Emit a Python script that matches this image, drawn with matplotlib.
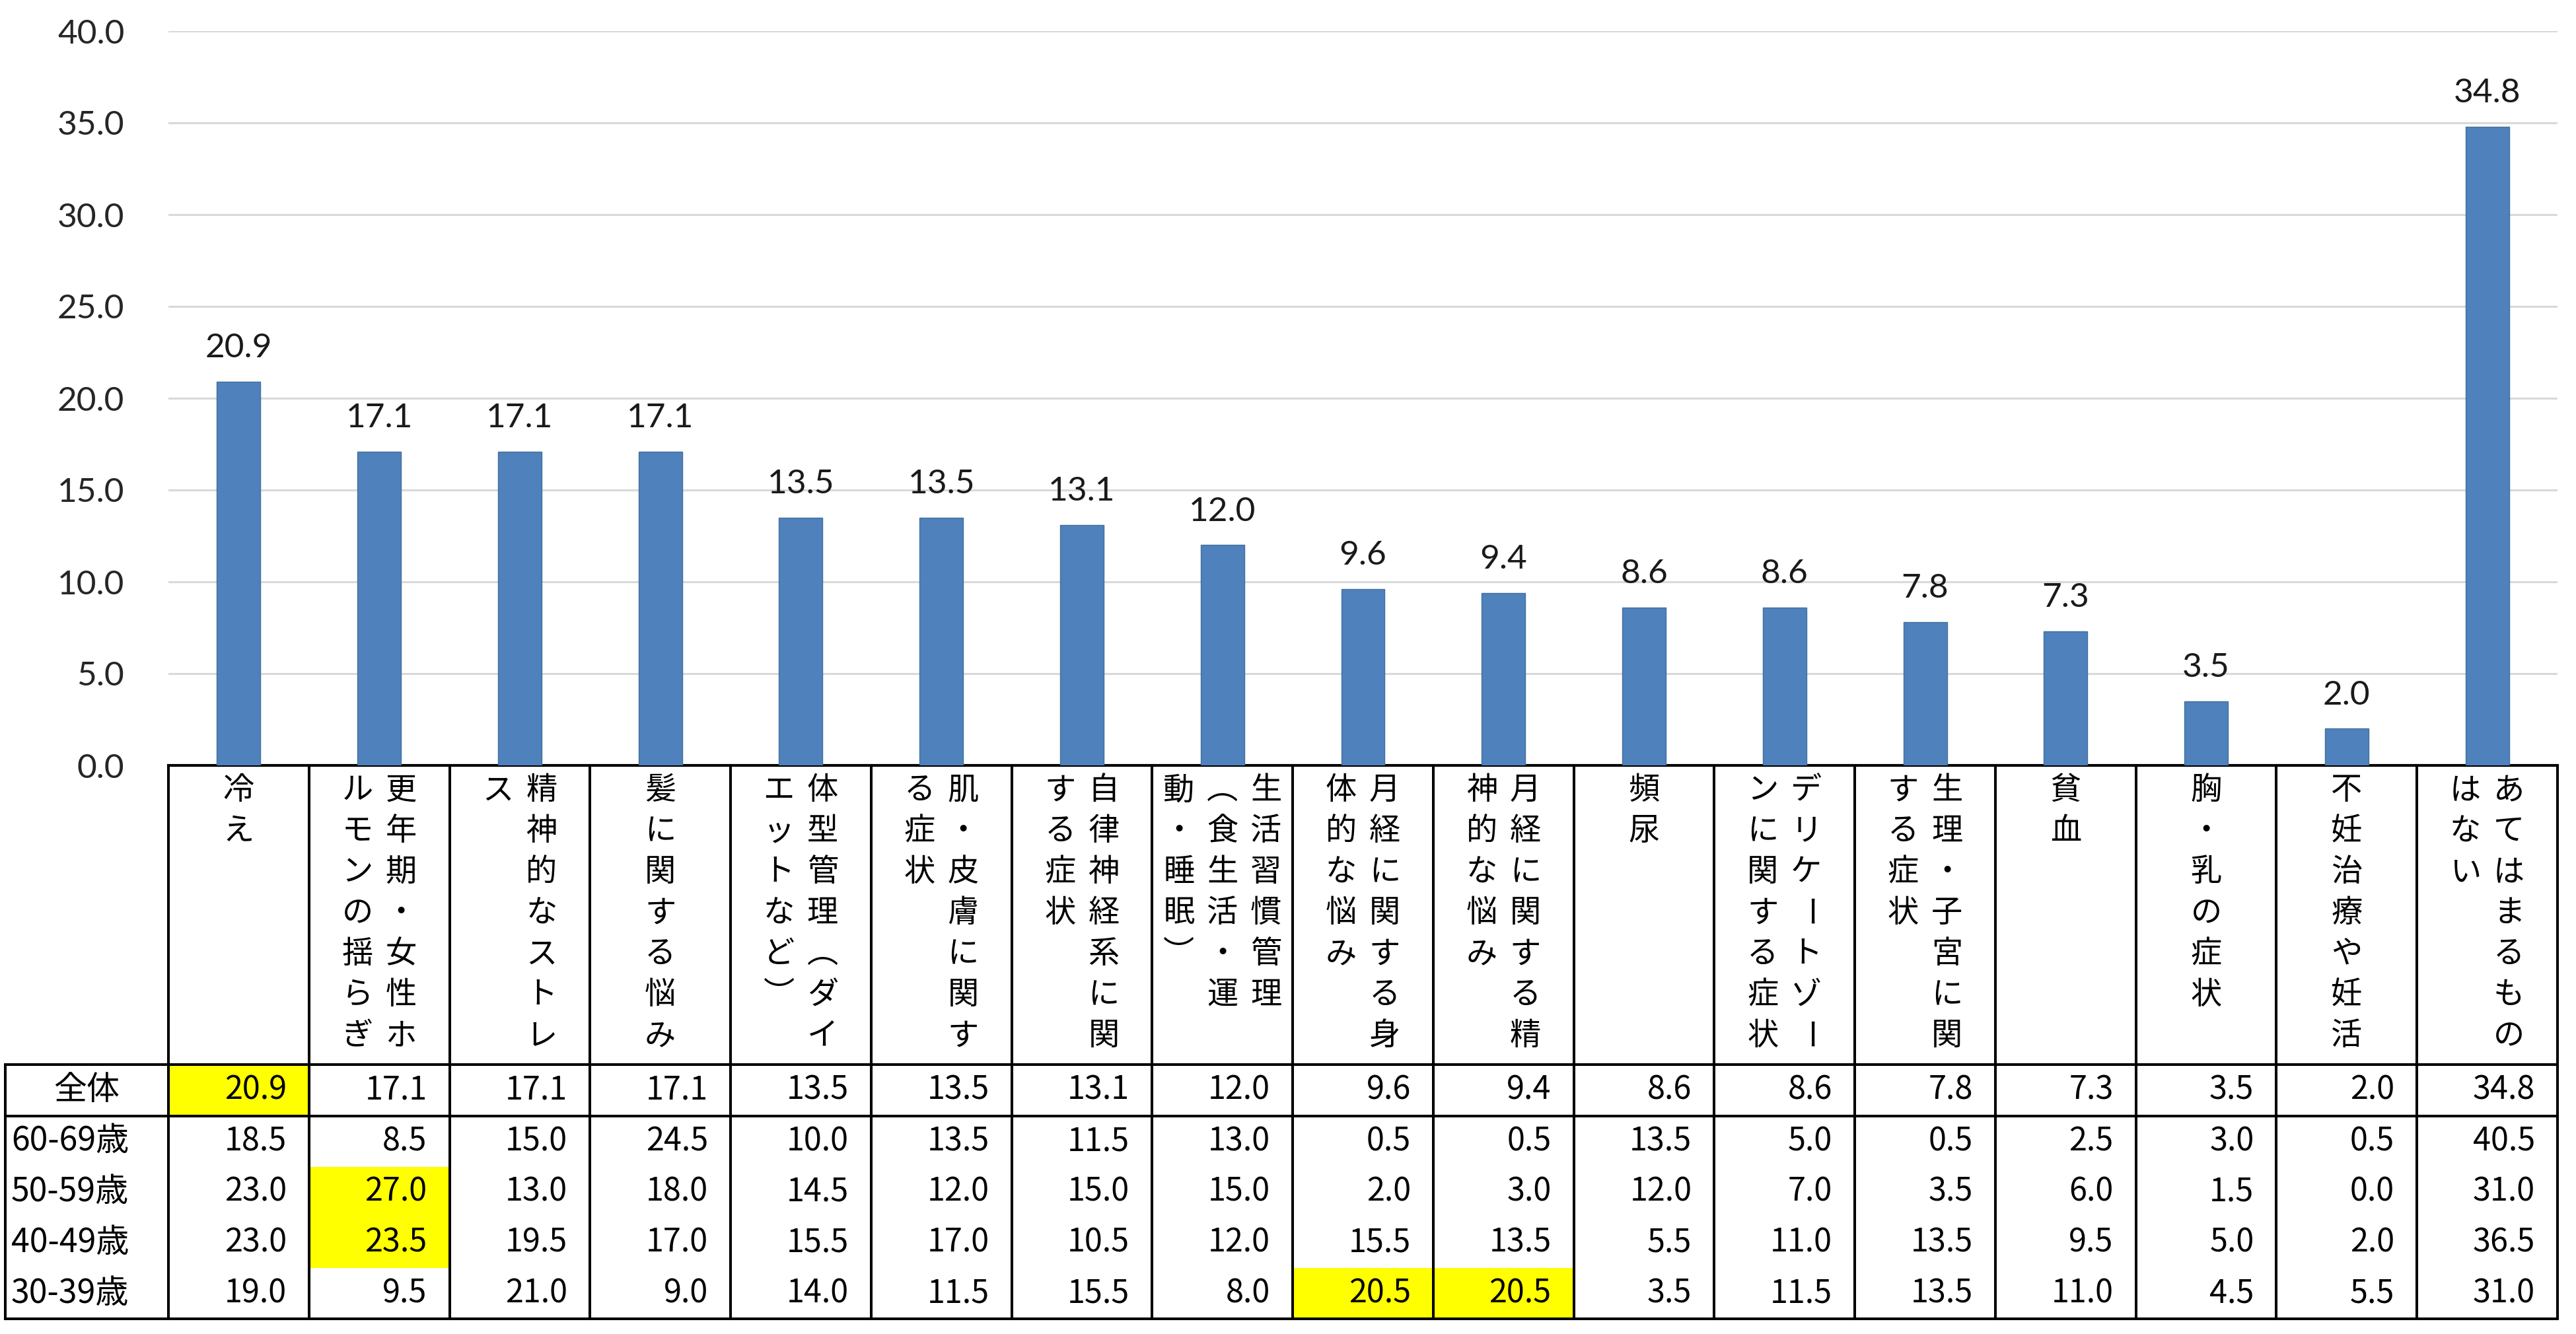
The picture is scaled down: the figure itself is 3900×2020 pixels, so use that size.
import numpy as np
import matplotlib.pyplot as plt
from matplotlib.patches import Rectangle

# 項目（縦書き、右の列から読む）
label_cols = [
    ["冷え"],
    ["更年期・女性ホ", "ルモンの揺らぎ"],
    ["精神的なストレ", "ス"],
    ["髪に関する悩み"],
    ["体型管理（ダイ", "エットなど）"],
    ["肌・皮膚に関す", "る症状"],
    ["自律神経系に関", "する症状"],
    ["生活習慣管理", "（食生活・運", "動・睡眠）"],
    ["月経に関する身", "体的な悩み"],
    ["月経に関する精", "神的な悩み"],
    ["頻尿"],
    ["デリケートゾー", "ンに関する症状"],
    ["生理・子宮に関", "する症状"],
    ["貧血"],
    ["胸・乳の症状"],
    ["不妊治療や妊活"],
    ["あてはまるもの", "はない"],
]

overall = [20.9, 17.1, 17.1, 17.1, 13.5, 13.5, 13.1, 12.0, 9.6, 9.4, 8.6, 8.6, 7.8, 7.3, 3.5, 2.0, 34.8]
age_60s = [18.5, 8.5, 15.0, 24.5, 10.0, 13.5, 11.5, 13.0, 0.5, 0.5, 13.5, 5.0, 0.5, 2.5, 3.0, 0.5, 40.5]
age_50s = [23.0, 27.0, 13.0, 18.0, 14.5, 12.0, 15.0, 15.0, 2.0, 3.0, 12.0, 7.0, 3.5, 6.0, 1.5, 0.0, 31.0]
age_40s = [23.0, 23.5, 19.5, 17.0, 15.5, 17.0, 10.5, 12.0, 15.5, 13.5, 5.5, 11.0, 13.5, 9.5, 5.0, 2.0, 36.5]
age_30s = [19.0, 9.5, 21.0, 9.0, 14.0, 11.5, 15.5, 8.0, 20.5, 20.5, 3.5, 11.5, 13.5, 11.0, 4.5, 5.5, 31.0]
age_names = ["60-69歳", "50-59歳", "40-49歳", "30-39歳"]

# 黄色ハイライト (行, 列)  行0=全体
highlight = [(0, 0), (2, 1), (3, 1), (4, 8), (4, 9)]

# 縦書き用の括弧
vert_map = {"（": "\ufe35", "）": "\ufe36"}

W, H = 3900, 2020
X0, X1 = 255, 3872          # 表の項目列
LX = 8                      # 左の見出し列
col_w = (X1 - X0) / 17
Y_BASE, Y_TOP = 1159, 47    # 0.0 と 40.0 の位置
Y_HEAD, Y_ALL, Y_END = 1612, 1690, 1997
row_h = (Y_END - Y_ALL) / 4

fig = plt.figure(figsize=(W / 100, H / 100), dpi=100)

ax = fig.add_axes([X0 / W, 1 - Y_BASE / H, (X1 - X0) / W, (Y_BASE - Y_TOP) / H])
x = np.arange(len(overall))
bars = ax.bar(x, overall, width=0.31, color='#4F81BD', edgecolor='#41719C', linewidth=1, zorder=3)
for xi, v in zip(x, overall):
    ax.annotate(f"{v:.1f}", (xi, v), xytext=(0, 20), textcoords='offset points',
                ha='center', va='bottom', fontsize=37, family='Lato', color='#1a1a1a')
ax.set_xlim(-0.5, 16.5)
ax.set_ylim(0, 40)
ax.set_yticks(np.arange(0, 41, 5))
ax.set_yticklabels([f"{t:.1f}" for t in np.arange(0, 41, 5)], family='Lato', fontsize=37, color='#262626')
ax.set_xticks([])
ax.tick_params(axis='y', length=0, pad=48)
ax.yaxis.grid(True, color='#D9D9D9', linewidth=2.2, zorder=0)
for s in ['left', 'right', 'top']:
    ax.spines[s].set_visible(False)
ax.spines['bottom'].set_linewidth(3)
ax.spines['bottom'].set_color('black')

# 表
tax = fig.add_axes([0, 0, 1, 1])
tax.set_xlim(0, W)
tax.set_ylim(H, 0)
tax.axis('off')

rows = [overall, age_60s, age_50s, age_40s, age_30s]
row_top = [Y_HEAD] + [Y_ALL + k * row_h for k in range(4)]
row_bot = [Y_ALL] + [Y_ALL + (k + 1) * row_h for k in range(4)]

for r, c in highlight:
    tax.add_patch(Rectangle((X0 + c * col_w, row_top[r]), col_w, row_bot[r] - row_top[r],
                            facecolor='#FFFF00', edgecolor='none', zorder=1))

lw = 2.9
for yy in [Y_HEAD, Y_ALL, Y_END]:
    tax.plot([LX, X1], [yy, yy], color='black', lw=lw, zorder=3, solid_capstyle='butt')
for i in range(18):
    xx = X0 + i * col_w
    tax.plot([xx, xx], [Y_BASE, Y_END], color='black', lw=lw, zorder=3)
tax.plot([LX, LX], [Y_HEAD, Y_END], color='black', lw=lw, zorder=3)

# 縦書きラベル（長音は回転、括弧は縦書き用字形）
col_sp = 66
pitch = 62
for i, cols in enumerate(label_cols):
    cx = X0 + (i + 0.5) * col_w
    n = len(cols)
    for k, line in enumerate(cols):
        tx = cx + ((n - 1) / 2 - k) * col_sp
        for j, ch in enumerate(line):
            ty = Y_BASE + 38 + j * pitch
            if ch == "ー":
                tax.text(tx, ty, ch, ha='center', va='center', rotation=-90,
                         rotation_mode='anchor', fontsize=34, family='Noto Sans CJK JP',
                         color='black', zorder=4)
            else:
                tax.text(tx, ty, vert_map.get(ch, ch), ha='center', va='center', fontsize=34,
                         family='Noto Sans CJK JP', color='black', zorder=4)

# 数値
for r, vals in enumerate(rows):
    yc = (row_top[r] + row_bot[r]) / 2
    for i, v in enumerate(vals):
        tax.text(X0 + (i + 1) * col_w - 34, yc, f"{v:.1f}", ha='right', va='center',
                 fontsize=35, family=['Liberation Sans Narrow', 'Noto Sans CJK JP'], zorder=4)

tax.text((LX + X0) / 2, (Y_HEAD + Y_ALL) / 2, "全体", ha='center', va='center',
         fontsize=36, family='Noto Sans CJK JP', zorder=4)
for k, name in enumerate(age_names):
    yc = (row_top[k + 1] + row_bot[k + 1]) / 2
    tax.text(17, yc, name, ha='left', va='center', fontsize=36,
             family='Noto Sans CJK JP', zorder=4)

fig.savefig('out.png', dpi=100, facecolor='white')
